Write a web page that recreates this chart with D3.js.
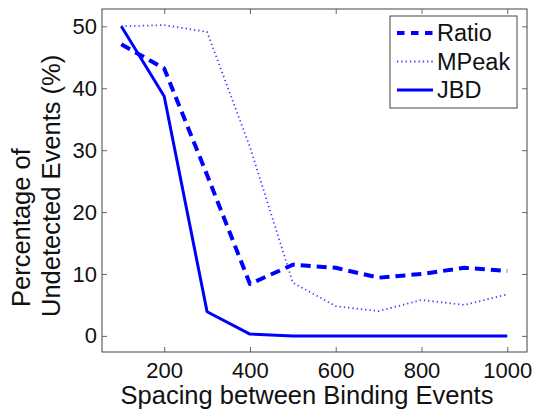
<!DOCTYPE html>
<html>
<head>
<meta charset="utf-8">
<script src="https://cdn.jsdelivr.net/npm/d3@7"></script>
<style>
  html, body { margin: 0; padding: 0; background: #fff; }
  svg { display: block; font-family: "Liberation Sans", Arial, Helvetica, sans-serif; }
</style>
</head>
<body>
<div id="chart"></div>
<script>
// spacing values on the x axis
const spacing = [100, 200, 300, 400, 500, 600, 700, 800, 900, 1000];
// percentage of undetected events for each method
const ratioVals = [47.1, 43.2, 26, 8.4, 11.5, 11.0, 9.4, 10.0, 11.0, 10.5];
const mpeakVals = [50, 50.2, 49.1, 30.5, 8.6, 4.8, 4.0, 5.8, 5.0, 6.7];
const jbdVals = [50, 38.7, 3.9, 0.3, 0, 0, 0, 0, 0, 0];
const xTicks = [200, 400, 600, 800, 1000];
const yTicks = [0, 10, 20, 30, 40, 50];

const width = 537, height = 412;
const box = { left: 102, top: 9, right: 527, bottom: 352 };

const svg = d3.select("#chart").append("svg")
    .attr("width", width)
    .attr("height", height);

const x = d3.scaleLinear().domain([55, 1046]).range([box.left, box.right]);
const y = d3.scaleLinear().domain([-2.6, 52.8]).range([box.bottom, box.top]);

// axes: bottom/left with labels, top/right with inner ticks only
const tickLen = 5;
const fmt = d3.format("d");
svg.append("g")
    .attr("transform", `translate(0,${box.bottom})`)
    .call(d3.axisBottom(x).tickValues(xTicks).tickFormat(fmt).tickSizeInner(-tickLen).tickSizeOuter(0).tickPadding(10))
    .call(g => g.select(".domain").remove());
svg.append("g")
    .attr("transform", `translate(0,${box.top})`)
    .call(d3.axisTop(x).tickValues(xTicks).tickSizeInner(-tickLen).tickSizeOuter(0).tickFormat(""))
    .call(g => g.select(".domain").remove());
svg.append("g")
    .attr("transform", `translate(${box.left},0)`)
    .call(d3.axisLeft(y).tickValues(yTicks).tickFormat(fmt).tickSizeInner(-tickLen).tickSizeOuter(0).tickPadding(5))
    .call(g => g.select(".domain").remove());
svg.append("g")
    .attr("transform", `translate(${box.right},0)`)
    .call(d3.axisRight(y).tickValues(yTicks).tickSizeInner(-tickLen).tickSizeOuter(0).tickFormat(""))
    .call(g => g.select(".domain").remove());

svg.selectAll(".tick line").attr("stroke", "#444").attr("stroke-width", 0.8);
svg.selectAll(".tick text")
    .attr("font-size", 22)
    .attr("font-family", "Liberation Sans, Arial, sans-serif")
    .attr("fill", "#111");

// box frame
svg.append("rect")
    .attr("x", box.left).attr("y", box.top)
    .attr("width", box.right - box.left).attr("height", box.bottom - box.top)
    .attr("fill", "none").attr("stroke", "#444").attr("stroke-width", 1);

const series = [
    { name: "Ratio", values: ratioVals, width: 4, dash: "10,6", opacity: 1 },
    { name: "MPeak", values: mpeakVals, width: 1.8, dash: "1.3,3", opacity: 0.75 },
    { name: "JBD", values: jbdVals, width: 3, dash: null, opacity: 1 }
];

const line = d3.line()
    .x((d, i) => x(spacing[i]))
    .y(d => y(d));

svg.append("g").selectAll("path")
    .data(series)
    .join("path")
    .attr("d", d => line(d.values))
    .attr("fill", "none")
    .attr("stroke", "#0000ff")
    .attr("stroke-opacity", d => d.opacity)
    .attr("stroke-width", d => d.width)
    .attr("stroke-dasharray", d => d.dash)
    .attr("stroke-linejoin", "round");

// legend
const legend = svg.append("g");
legend.append("rect")
    .attr("x", 390).attr("y", 16)
    .attr("width", 127).attr("height", 92)
    .attr("fill", "#fff").attr("stroke", "#444").attr("stroke-width", 1);
const entry = legend.selectAll("g.entry")
    .data(series)
    .join("g")
    .attr("class", "entry")
    .attr("transform", (d, i) => `translate(0,${33 + i * 28.5})`);
entry.append("line")
    .attr("x1", 397).attr("x2", 433)
    .attr("stroke", "#0000ff")
    .attr("stroke-opacity", d => d.opacity)
    .attr("stroke-width", d => d.width)
    .attr("stroke-dasharray", d => d.name === "Ratio" ? "7.5,6.5" : d.dash);
entry.append("text")
    .attr("x", 437)
    .attr("dy", "0.36em")
    .attr("font-size", 23.5)
    .attr("fill", "#111")
    .text(d => d.name);

// axis titles
svg.append("text")
    .attr("x", 307)
    .attr("y", 404)
    .attr("text-anchor", "middle")
    .attr("font-size", 25.5)
    .attr("fill", "#111")
    .text("Spacing between Binding Events");

const yTitle = svg.append("text")
    .attr("transform", "rotate(-90)")
    .attr("text-anchor", "start")
    .attr("font-size", 25.5)
    .attr("fill", "#111");
yTitle.append("tspan").attr("x", -307).attr("y", 30).text("Percentage of");
yTitle.append("tspan").attr("x", -317).attr("y", 60).text("Undetected Events (%)");
</script>
</body>
</html>
